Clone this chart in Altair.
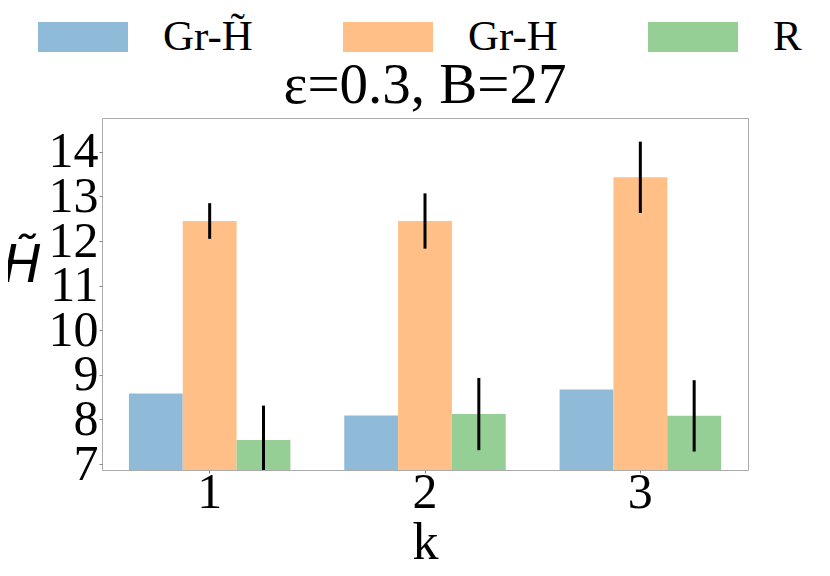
import altair as alt
import pandas as pd

# ---- data ----
ks = ["1", "2", "3"]
series = ["Gr-H\u0303", "Gr-H", "R"]
gr_ht = [8.58, 8.09, 8.67]
gr_h = [12.45, 12.45, 13.43]
gr_h_err = [0.40, 0.62, 0.80]
r_vals = [7.54, 8.12, 8.08]
r_err = [0.77, 0.81, 0.80]
colors = ["#8fbbd9", "#ffbf86", "#95cf95"]
y_ticks = [7, 8, 9, 10, 11, 12, 13, 14]

bar_rows = []
err_rows = []
for i, k in enumerate(ks):
    bar_rows.append({"k": k, "series": series[0], "value": gr_ht[i]})
    bar_rows.append({"k": k, "series": series[1], "value": gr_h[i]})
    bar_rows.append({"k": k, "series": series[2], "value": r_vals[i]})
    err_rows.append({"k": k, "series": series[1],
                     "lo": gr_h[i] - gr_h_err[i], "hi": gr_h[i] + gr_h_err[i]})
    err_rows.append({"k": k, "series": series[2],
                     "lo": r_vals[i] - r_err[i], "hi": r_vals[i] + r_err[i]})
bars_df = pd.DataFrame(bar_rows)
err_df = pd.DataFrame(err_rows)

SERIF = "Liberation Serif"

x_enc = alt.X("k:N", sort=ks,
              scale=alt.Scale(paddingInner=0.25, paddingOuter=0.125),
              axis=alt.Axis(title="k", labelAngle=0, titleFont=SERIF,
                            titleFontSize=52, titleFontWeight="normal",
                            labelPadding=-6, titlePadding=0))
xoff_enc = alt.XOffset("series:N",
                       scale=alt.Scale(domain=series, paddingInner=0, paddingOuter=0))
y_scale = alt.Scale(domain=[6.866, 14.76], nice=False, zero=False)

bars = alt.Chart(bars_df).mark_bar(clip=True).encode(
    x=x_enc,
    xOffset=xoff_enc,
    y=alt.Y("value:Q", scale=y_scale,
            axis=alt.Axis(values=y_ticks, title="H\u0303", titleAngle=0,
                          titleFont="DejaVu Sans", titleFontStyle="italic",
                          titleFontSize=52, titleFontWeight="normal",
                          titleX=-100, titleY=147, titleAlign="left",
                          titleBaseline="middle", labelOverlap=False,
                          labelPadding=1, labelBaseline="middle")),
    color=alt.Color("series:N",
                    scale=alt.Scale(domain=series, range=colors),
                    legend=alt.Legend(orient="none", legendX=-64, legendY=-126,
                                      direction="horizontal", columns=3,
                                      title=None,
                                      symbolType="M-1,-0.333H1V0.333H-1Z",
                                      symbolSize=8100, symbolStrokeWidth=0,
                                      symbolOpacity=1,
                                      labelFont=SERIF, labelFontSize=43,
                                      labelOffset=35, columnPadding=90,
                                      labelLimit=0)),
)

errs = alt.Chart(err_df).mark_rule(clip=True, color="black", strokeWidth=3).encode(
    x=alt.X("k:N", sort=ks),
    xOffset=alt.XOffset("series:N"),
    y=alt.Y("lo:Q", scale=y_scale),
    y2="hi:Q",
)

chart = alt.layer(bars, errs).properties(
    width=646, height=352,
    title=alt.TitleParams("\u03b5=0.3, B=27", font=SERIF, fontSize=57,
                          fontWeight="normal", color="black", offset=2,
                          dy=125),
    autosize=alt.AutoSizeParams(type="none"),
    padding={"left": 94, "top": 110, "right": 70, "bottom": 105},
).configure_view(
    stroke="#aaaaaa", strokeWidth=1
).configure_axis(
    labelFont=SERIF, labelFontSize=50, labelColor="black",
    titleColor="black", tickColor="#888888", tickSize=3,
    domain=False, grid=False,
).configure_legend(
    labelColor="black"
)

chart.save("out.html", embed_options={"renderer": "svg", "actions": False})
